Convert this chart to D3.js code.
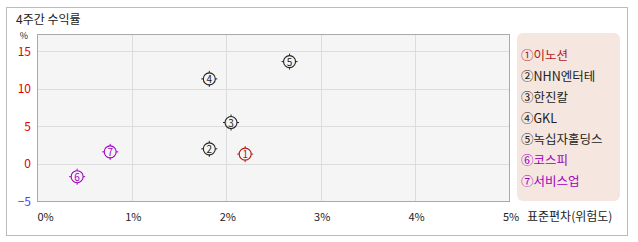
<!DOCTYPE html>
<html>
<head>
<meta charset="utf-8">
<style type="text/css">
body{ margin:0; background:#fff; }
text{ font-family: "Noto Sans CJK KR", "Noto Sans", sans-serif; font-size: 12px; }
</style>
</head>
<body>
<script src="https://d3js.org/d3.v7.min.js"></script>
<script>
// data
var names = ["이노션", "NHN엔터테", "한진칼", "GKL", "녹십자홀딩스", "코스피", "서비스업"];
var marks = ["①", "②", "③", "④", "⑤", "⑥", "⑦"];
var stdev = [2.20, 1.82, 2.05, 1.82, 2.67, 0.42, 0.77];   // x, %
var returns = [1.3, 2.0, 5.5, 11.3, 13.6, -1.7, 1.6];     // y, %
var colors = ["#b01c1c", "#222", "#222", "#222", "#222", "#a000c0", "#a000c0"];
var xTicks = [0, 1, 2, 3, 4, 5];
var yTicks = [-5, 0, 5, 10, 15];

var W = 638, H = 242;
var plot = {left: 37.5, top: 34.5, right: 509.5, bottom: 201.5};

var svg = d3.select("body").append("svg")
    .attr("width", W).attr("height", H);

// outer frame
svg.append("rect")
    .attr("x", 6.5).attr("y", 7.5)
    .attr("width", 621).attr("height", 228)
    .attr("fill", "#fff").attr("stroke", "#bbb");

svg.append("text").attr("x", 16).attr("y", 24)
    .attr("fill", "#222").text("4주간 수익률");

var x = d3.scaleLinear().domain([0, 5]).range([plot.left, plot.right]);
var y = d3.scaleLinear().domain([-5, 17.2]).range([plot.bottom, plot.top]);

svg.append("rect")
    .attr("x", plot.left).attr("y", plot.top)
    .attr("width", plot.right - plot.left).attr("height", plot.bottom - plot.top)
    .attr("fill", "#f5f5f5");

// grid
svg.append("g").selectAll("line").data(xTicks.slice(1, -1)).join("line")
    .attr("x1", d => Math.round(x(d)) + 0.5).attr("x2", d => Math.round(x(d)) + 0.5)
    .attr("y1", plot.top).attr("y2", plot.bottom)
    .attr("stroke", "#dcdcdc");
svg.append("g").selectAll("line").data(yTicks.slice(1)).join("line")
    .attr("x1", plot.left).attr("x2", plot.right)
    .attr("y1", d => Math.round(y(d)) + 0.5).attr("y2", d => Math.round(y(d)) + 0.5)
    .attr("stroke", "#dcdcdc");

svg.append("rect")
    .attr("x", plot.left).attr("y", plot.top)
    .attr("width", plot.right - plot.left).attr("height", plot.bottom - plot.top)
    .attr("fill", "none").attr("stroke", "#aaa");

// y axis labels
svg.append("text").attr("x", 24).attr("y", 39).attr("text-anchor", "middle")
    .attr("fill", "#222").style("font-size", "9px").text("%");
svg.append("g").selectAll("text").data(yTicks).join("text")
    .attr("x", 31).attr("y", d => y(d) + 4.5)
    .attr("text-anchor", "end")
    .attr("fill", d => d < 0 ? "#4444ff" : "#e00000")
    .text(d => d < 0 ? "\u2212" + Math.abs(d) : d);

// x axis labels
svg.append("g").selectAll("text").data(xTicks).join("text")
    .attr("x", d => d === 0 ? plot.left : x(d) + 1.5)
    .attr("y", 221)
    .attr("text-anchor", d => d === 0 ? "start" : "middle")
    .attr("fill", "#222").style("font-size", "11px")
    .text(d => d + "%");
svg.append("text").attr("x", 527).attr("y", 221)
    .attr("fill", "#222").text("표준편차(위험도)");

// points
var pts = svg.append("g").selectAll("g").data(names).join("g")
    .attr("transform", (d, i) => "translate(" + x(stdev[i]) + "," + y(returns[i]) + ")");
pts.append("circle").attr("r", 6)
    .attr("fill", "none").attr("stroke", (d, i) => colors[i]).attr("stroke-width", 1.1);
pts.selectAll("line").data((d, i) => [[0, -6, 0, -8, colors[i]], [0, 6, 0, 8, colors[i]], [-6, 0, -8, 0, colors[i]], [6, 0, 8, 0, colors[i]]])
    .join("line")
    .attr("x1", d => d[0]).attr("y1", d => d[1]).attr("x2", d => d[2]).attr("y2", d => d[3])
    .attr("stroke", d => d[4]);
pts.append("text").attr("y", 4).attr("text-anchor", "middle")
    .attr("fill", (d, i) => colors[i]).style("font-size", "10px")
    .text((d, i) => i + 1);

// legend
svg.append("rect")
    .attr("x", 517).attr("y", 33)
    .attr("width", 103).attr("height", 168).attr("rx", 6)
    .attr("fill", "#f5e7df");
svg.append("g").selectAll("text").data(names).join("text")
    .attr("x", 521).attr("y", (d, i) => 59.5 + i * 21.1)
    .attr("fill", (d, i) => colors[i]).style("font-size", "12.5px")
    .text((d, i) => marks[i] + d);
</script>
</body>
</html>
